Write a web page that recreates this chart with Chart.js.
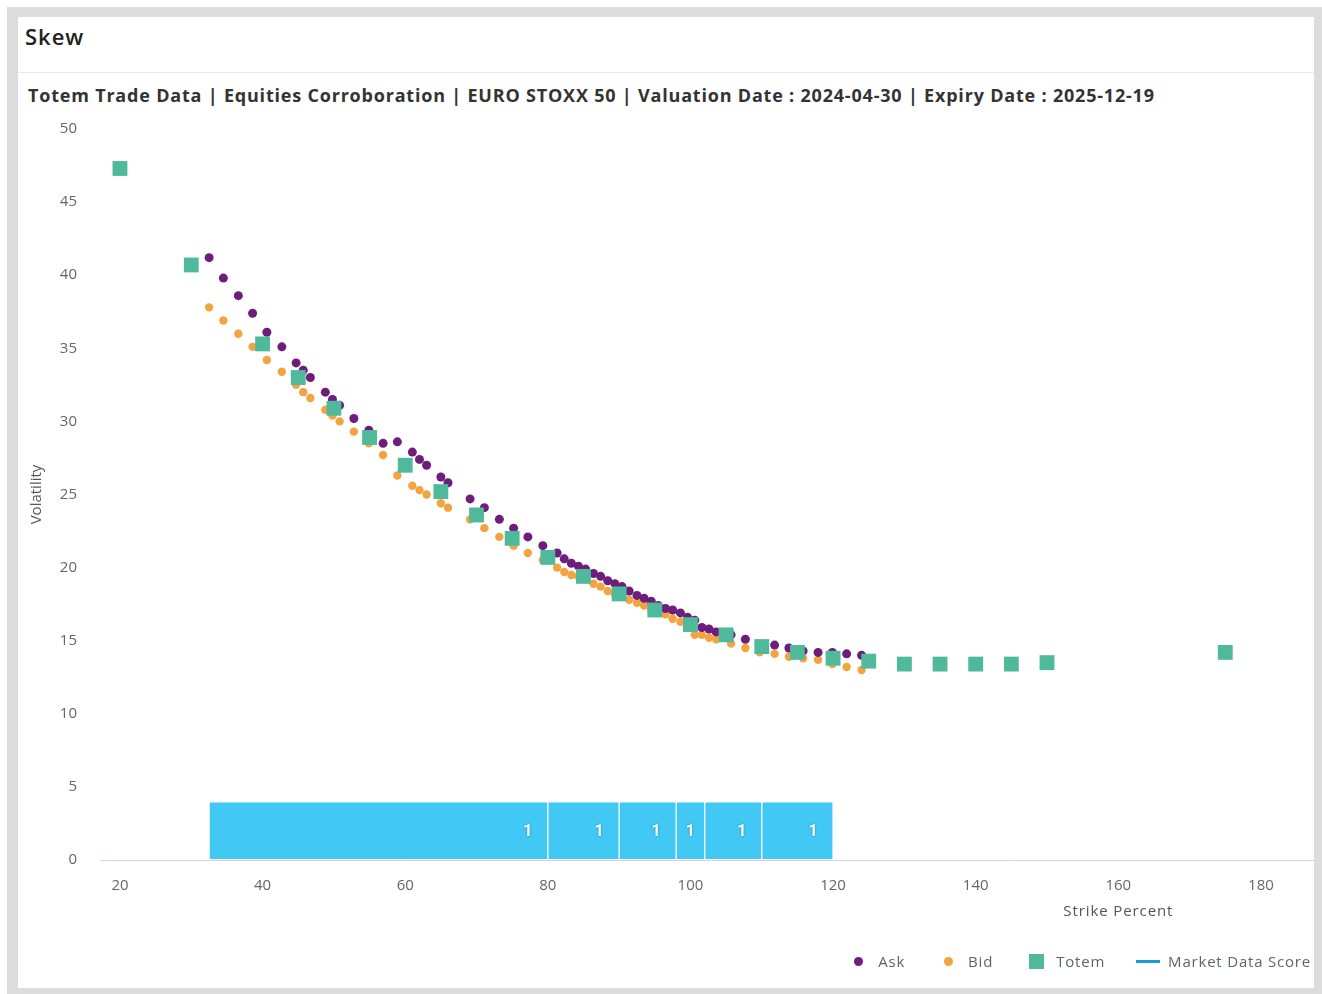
<!DOCTYPE html>
<html>
<head>
<meta charset="utf-8">
<script src="https://cdn.jsdelivr.net/npm/chart.js@4.4.1/dist/chart.umd.min.js"></script>
<style>
html, body { margin: 0; padding: 0; width: 1322px; height: 994px; overflow: hidden; background: #fff; font-family: "Open Sans", Roboto, sans-serif; }
#frame { position: absolute; left: 7px; top: 7px; width: 1315px; height: 987px; background: #dcdcdc; }
#card { position: absolute; left: 18px; top: 17px; width: 1296px; height: 971px; background: #fff; }
#head { position: absolute; left: 7px; top: 4px; font-size: 22px; font-weight: 600; color: #222; letter-spacing: 1px; }
#sep { position: absolute; left: 0; right: 0; top: 55px; height: 1px; background: #e9e9e9; }
#sub { position: absolute; left: 10px; top: 66px; font-size: 18px; font-weight: 700; color: #333; white-space: nowrap; letter-spacing: 0.8px; }
#wrap { position: absolute; left: 0; top: 91px; width: 1296px; height: 880px; }
#legend { position: absolute; right: 3px; top: 934px; display: flex; align-items: center; font-size: 15px; color: #5d6470; letter-spacing: 0.8px; }
#legend .item { display: flex; align-items: center; margin-left: 31px; }
#legend .box { width: 24px; height: 20px; display: flex; align-items: center; justify-content: center; margin-right: 8px; }
</style>
</head>
<body>
<div id="frame"></div>
<div id="card">
  <div id="head">Skew</div>
  <div id="sep"></div>
  <div id="sub">Totem Trade Data | Equities Corroboration | EURO STOXX 50 | Valuation Date : 2024-04-30 | Expiry Date : 2025-12-19</div>
  <div id="wrap"><canvas id="skewChart"></canvas></div>
  <div id="legend"></div>
</div>
<script>
// strike percent / volatility
const askX = [32.5,34.5,36.6,38.6,40.6,42.7,44.7,45.7,46.7,48.8,49.8,50.8,52.8,54.9,56.9,58.9,61.0,62.0,63.0,65.0,66.0,69.1,71.1,73.2,75.2,77.2,79.3,81.3,82.3,83.3,84.3,85.3,86.4,87.4,88.4,89.4,90.4,91.4,92.5,93.5,94.5,95.5,96.5,97.5,98.6,99.6,100.6,101.6,102.6,103.6,105.7,107.7,111.8,113.8,115.8,117.9,119.9,121.9,124.0];
const askY = [41.2,39.8,38.6,37.4,36.1,35.1,34.0,33.5,33.0,32.0,31.5,31.1,30.2,29.4,28.5,28.6,27.9,27.4,27.0,26.2,25.8,24.7,24.1,23.3,22.7,22.1,21.5,21.0,20.6,20.3,20.1,19.9,19.6,19.4,19.1,18.9,18.7,18.4,18.1,17.9,17.7,17.4,17.2,17.1,16.9,16.6,16.4,15.9,15.8,15.6,15.4,15.1,14.7,14.5,14.3,14.2,14.2,14.1,14.0];
const bidX = [32.5,34.5,36.6,38.6,40.6,42.7,44.7,45.7,46.7,48.8,49.8,50.8,52.8,54.9,56.9,58.9,61.0,62.0,63.0,65.0,66.0,69.1,71.1,73.2,75.2,77.2,79.3,81.3,82.3,83.3,84.3,85.3,86.4,87.4,88.4,89.4,90.4,91.4,92.5,93.5,94.5,95.5,96.5,97.5,98.6,99.6,100.6,101.6,102.6,103.6,105.7,107.7,109.7,111.8,113.8,115.8,117.9,119.9,121.9,124.0];
const bidY = [37.8,36.9,36.0,35.1,34.2,33.4,32.5,32.0,31.6,30.8,30.4,30.0,29.3,28.5,27.7,26.3,25.6,25.3,25.0,24.4,24.1,23.3,22.7,22.1,21.5,21.0,20.5,20.0,19.7,19.5,19.4,19.2,18.9,18.7,18.4,18.2,18.0,17.8,17.6,17.4,17.1,17.0,16.8,16.5,16.3,16.0,15.4,15.4,15.2,15.1,14.8,14.5,14.2,14.1,13.9,13.8,13.7,13.4,13.2,13.0];
const totemX = [20,30,40,45,50,55,60,65,70,75,80,85,90,95,100,105,110,115,120,125,130,135,140,145,150,175];
const totemY = [47.3,40.7,35.3,33.0,30.9,28.9,27.0,25.2,23.6,22.0,20.7,19.4,18.2,17.1,16.1,15.4,14.6,14.2,13.8,13.6,13.4,13.4,13.4,13.4,13.5,14.2];
// market data score bands
const scoreStart = [32.5,80,90,98,102,110];
const scoreEnd = [80,90,98,102,110,120];
const scoreValue = [1,1,1,1,1,1];
const scoreBand = 2;   // band centre on the volatility axis
const xTicks = [20,40,60,80,100,120,140,160,180];

const askColor = '#6e1d7c';
const bidColor = '#f3a340';
const totemColor = '#4fb99b';
const scoreColor = '#41c8f4';
const scoreLine = '#1b9bd8';

Chart.defaults.font.family = '"Open Sans", Roboto, sans-serif';
Chart.defaults.color = '#666';

const pts = (xs, ys) => xs.map((x, i) => ({ x: x, y: ys[i] }));

const scoreLabels = {
    id: 'scoreLabels',
    afterDatasetsDraw(chart) {
        const ctx = chart.ctx;
        const meta = chart.getDatasetMeta(3);
        ctx.save();
        ctx.font = 'bold 16px Roboto, sans-serif';
        ctx.fillStyle = '#fff';
        ctx.textAlign = 'center';
        ctx.textBaseline = 'middle';
        ctx.shadowColor = 'rgba(0,0,0,0.45)';
        ctx.shadowBlur = 2;
        meta.data.forEach((bar, i) => {
            const l = Math.min(bar.x, bar.base), r = Math.max(bar.x, bar.base);
            ctx.fillText(String(scoreValue[i]), Math.max((l + r) / 2, r - 20), bar.y + 1);
        });
        ctx.restore();

        // axis title sits under the 160 tick
        const xs = chart.scales.x;
        ctx.save();
        ctx.font = '15px "Open Sans", sans-serif';
        ctx.letterSpacing = '0.9px';
        ctx.fillStyle = '#555';
        ctx.textAlign = 'center';
        ctx.textBaseline = 'middle';
        ctx.fillText('Strike Percent', xs.getPixelForValue(160), xs.top + 52);
        ctx.restore();
    }
};

const chart = new Chart(document.getElementById('skewChart'), {
    type: 'scatter',
    data: {
        datasets: [
            { label: 'Ask', data: pts(askX, askY), backgroundColor: askColor, borderWidth: 0, pointRadius: 4.5, order: 1 },
            { label: 'Bid', data: pts(bidX, bidY), backgroundColor: bidColor, borderWidth: 0, pointRadius: 4.2, order: 2 },
            { label: 'Totem', data: pts(totemX, totemY), backgroundColor: totemColor, borderWidth: 0, pointStyle: 'rect', pointRadius: 10.5, order: 0 },
            {
                type: 'bar', label: 'Market Data Score', indexAxis: 'y', grouped: false,
                data: scoreStart.map((s, i) => ({ x: [s, scoreEnd[i]], y: scoreBand })),
                backgroundColor: scoreColor, borderColor: 'rgba(255,255,255,0.35)', borderWidth: 1, borderSkipped: false,
                barThickness: 58, order: 3
            }
        ]
    },
    options: {
        responsive: true,
        maintainAspectRatio: false,
        animation: false,
        layout: { autoPadding: false, padding: { top: 21, right: 1, left: 0, bottom: 0 } },
        plugins: { legend: { display: false }, tooltip: { enabled: false } },
        scales: {
            x: {
                type: 'linear', min: 17.2, max: 187.3, offset: false,
                afterBuildTicks: s => { s.ticks = xTicks.map(v => ({ value: v })); },
                afterFit: s => { s.height = 128; s.paddingLeft = 0; s.paddingRight = 0; },
                grid: { display: false, drawTicks: false, offset: false },
                border: { display: true, color: '#ccd6eb', width: 1 },
                ticks: { padding: 17, color: '#666', font: { size: 15 } }
            },
            y: {
                type: 'linear', min: 0, max: 50, offset: false,
                afterFit: s => { s.width = 82; s.paddingTop = 0; s.paddingBottom = 0; },
                grid: { display: false, drawTicks: false, offset: false },
                border: { display: false },
                ticks: { stepSize: 5, padding: 23, color: '#666', font: { size: 15 } },
                title: { display: true, text: 'Volatility', color: '#555', font: { size: 15 }, padding: { top: 10, bottom: 0 } }
            }
        }
    },
    plugins: [scoreLabels]
});

// legend
const marks = [
    '<span style="width:9px;height:9px;border-radius:50%;background:' + askColor + '"></span>',
    '<span style="width:9px;height:9px;border-radius:50%;background:' + bidColor + '"></span>',
    '<span style="width:15px;height:15px;background:' + totemColor + '"></span>',
    '<span style="width:24px;height:3px;background:' + scoreLine + '"></span>'
];
document.getElementById('legend').innerHTML = chart.data.datasets.map((d, i) =>
    '<div class="item"><div class="box">' + marks[i] + '</div><span>' + d.label + '</span></div>').join('');
</script>
</body>
</html>
